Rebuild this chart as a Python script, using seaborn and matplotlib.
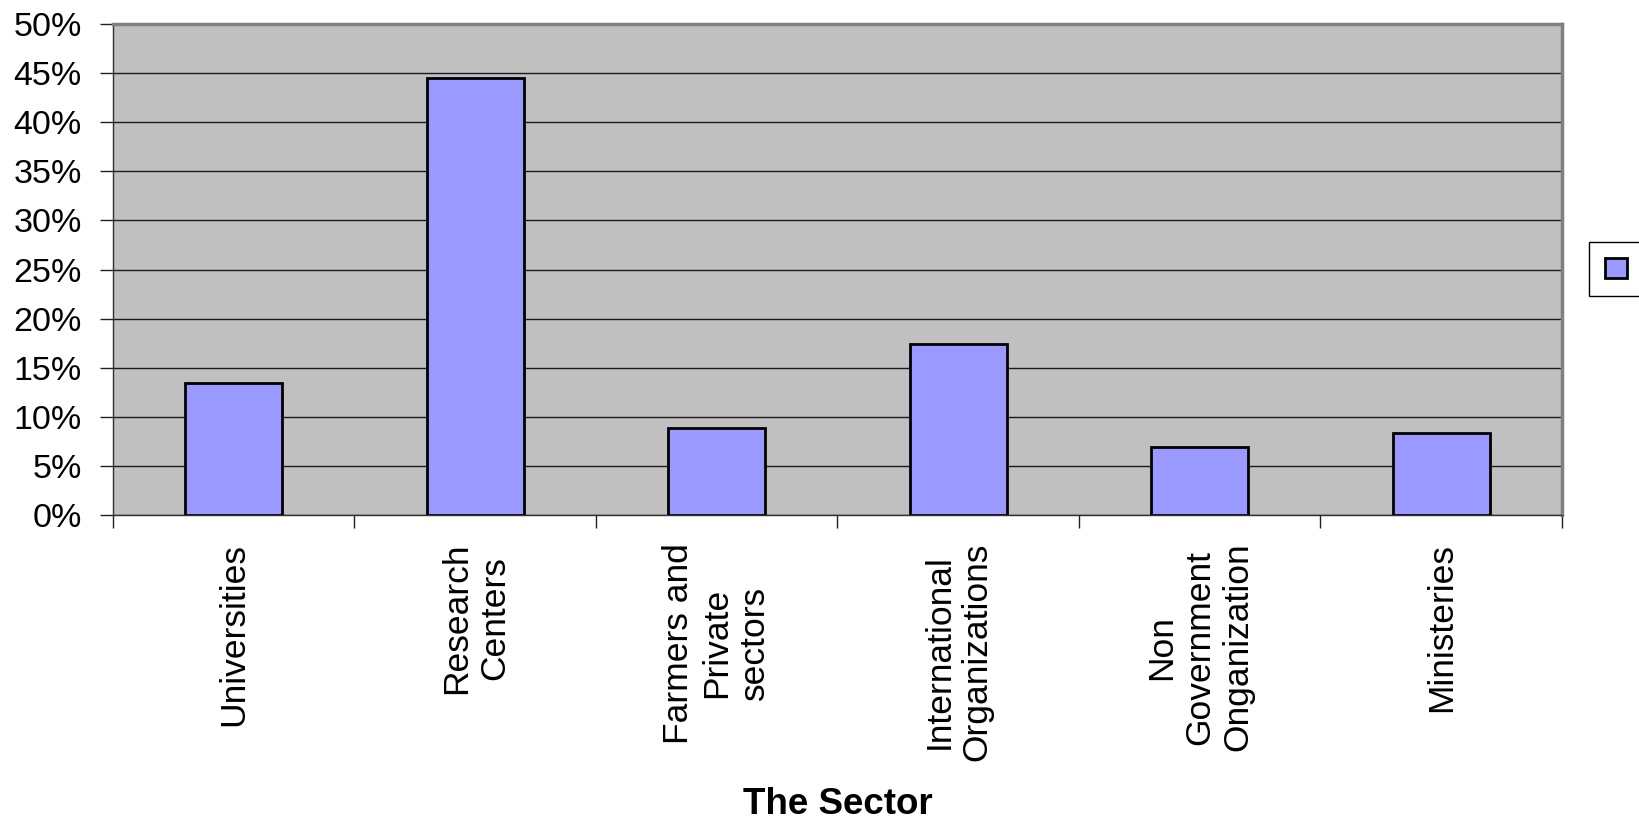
import matplotlib
matplotlib.use("Agg")
import matplotlib.pyplot as plt
import seaborn as sns
import pandas as pd
from matplotlib.ticker import PercentFormatter

# values
sectors = ["Universities", "Research\nCenters", "Farmers and\nPrivate\nsectors",
           "International\nOrganizations", "Non\nGovernment\nOnganization", "Ministeries"]
shares = [0.134, 0.445, 0.089, 0.174, 0.069, 0.084]
y_ticks = [0, 0.05, 0.10, 0.15, 0.20, 0.25, 0.30, 0.35, 0.40, 0.45, 0.50]

df = pd.DataFrame({"sector": sectors, "share": shares})

sns.set_style("white")
plt.rcParams["font.family"] = ["Liberation Sans", "DejaVu Sans"]
plt.rcParams["text.color"] = "black"
plt.rcParams["axes.labelcolor"] = "black"
plt.rcParams["xtick.color"] = "black"
plt.rcParams["ytick.color"] = "black"

fig = plt.figure(figsize=(16.4, 8.22), dpi=100)
ax = fig.add_axes([113 / 1640, 1 - 515 / 822, (1562 - 113) / 1640, (515 - 24) / 822])
ax.set_facecolor("#C0C0C0")
ax.set_axisbelow(True)

sns.barplot(data=df, x="sector", y="share", color="#9999FF", saturation=1,
            width=0.4, edgecolor="black", linewidth=2, ax=ax)

ax.set_xlim(-0.5, len(sectors) - 0.5)
ax.set_ylim(0, 0.5)
ax.set_yticks(y_ticks)
ax.yaxis.set_major_formatter(PercentFormatter(1.0, decimals=0))
ax.yaxis.grid(True, color="#1a1a1a", lw=1)
ax.xaxis.grid(False)

# category labels on major ticks, boundary ticks as minor ticks
ax.set_xticks(range(len(sectors)))
ax.set_xticklabels(sectors, rotation=90, fontsize=25.5)
for lbl in ax.get_xticklabels():
    lbl.set_multialignment("center")
ax.set_xticks([i - 0.5 for i in range(len(sectors) + 1)], minor=True)
ax.tick_params(axis="x", which="major", length=0, pad=20, bottom=True)
ax.tick_params(axis="x", which="minor", length=9.5, width=1, color="#202020",
               direction="out", bottom=True)
ax.tick_params(axis="y", which="major", length=9.5, width=1, color="#202020",
               direction="out", left=True, pad=13, labelsize=24.5)

ax.set_ylabel("")
ax.set_xlabel("The Sector", fontsize=26.5, fontweight="bold")
ax.xaxis.set_label_coords(0.5, -0.553)

for side in ["left", "bottom"]:
    ax.spines[side].set_color("#303030")
    ax.spines[side].set_linewidth(1)
for side in ["top", "right"]:
    ax.spines[side].set_color("#808080")
    ax.spines[side].set_linewidth(2.5)

fig.legend(handles=[ax.patches[0]], labels=["     "], loc="upper left",
           bbox_to_anchor=(1589 / 1640, 1 - 242 / 822), fontsize=16.5,
           handlelength=1, handleheight=1, borderpad=0.68, borderaxespad=0,
           fancybox=False, frameon=True, edgecolor="black", framealpha=1)

fig.savefig("out.png", dpi=100)
